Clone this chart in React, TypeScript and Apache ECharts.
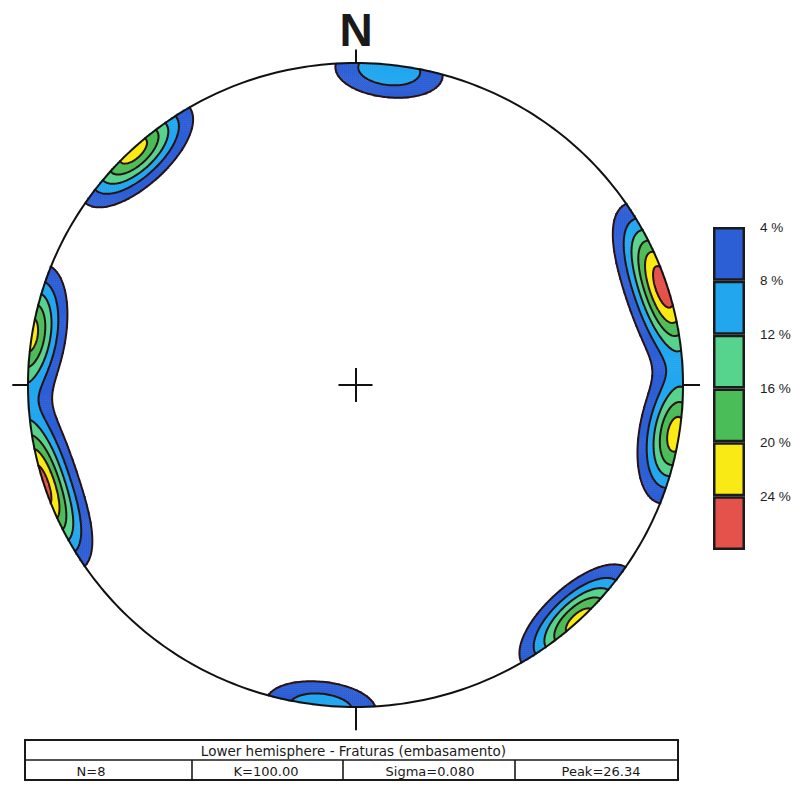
import React, { useEffect, useRef } from 'react';
import * as echarts from 'echarts';

// Poles to the 8 fractures: trend (deg, clockwise from N) and plunge (deg)
const POLE_TRENDS = [6, 315.5, 318.5, 66, 72, 78, 97.5, 100.5];
const POLE_PLUNGES = [1.5, 0.5, 0.5, 1, 1.5, 1, 1, 1];
const KAPPA = 75; // concentration of the counting kernel
const PEAK = 26.34; // peak density (%)
const LEVELS = [4, 8, 12, 16, 20, 24];
const LEVEL_COLORS = ['#2c5fd5', '#22a7ef', '#56d38d', '#4bbd58', '#f9ea15', '#e5524b'];
const LEVEL_LABELS = ['4 %', '8 %', '12 %', '16 %', '20 %', '24 %'];
const TITLE_ROW = 'Lower hemisphere - Fraturas (embasamento)';
const STAT_ROW = ['N=8', 'K=100.00', 'Sigma=0.080', 'Peak=26.34'];
const NORTH_LABEL = 'N';

const GRID_N = 330;
const NET = { left: 28, top: 63, width: 655, height: 644 };
const LINE_COLOR = '#2a1212';

function buildField() {
  const D2R = Math.PI / 180;
  const poles = POLE_TRENDS.map((t, k) => {
    const p = POLE_PLUNGES[k] * D2R;
    const tr = t * D2R;
    return [Math.cos(p) * Math.sin(tr), Math.cos(p) * Math.cos(tr), Math.sin(p)];
  });
  const coords = Array.from({ length: GRID_N }, (_, i) => -1 + ((i + 0.5) * 2) / GRID_N);
  const raw: number[][] = [];
  let max = 0;
  for (let j = 0; j < GRID_N; j++) {
    const row: number[] = [];
    for (let i = 0; i < GRID_N; i++) {
      let x = coords[i];
      let y = coords[j];
      let r = Math.hypot(x, y);
      const inside = r <= 1;
      if (r > 1) {
        x /= r;
        y /= r;
        r = 1;
      }
      const th = 2 * Math.asin(Math.min(1, r / Math.SQRT2));
      const az = Math.atan2(x, y);
      const d0 = Math.sin(th) * Math.sin(az);
      const d1 = Math.sin(th) * Math.cos(az);
      const d2 = Math.cos(th);
      let s = 0;
      for (const v of poles) s += Math.exp(KAPPA * (Math.abs(d0 * v[0] + d1 * v[1] + d2 * v[2]) - 1));
      row.push(s);
      if (inside && s > max) max = s;
    }
    raw.push(row);
  }
  const scale = PEAK / max;
  const field = raw.map((row) => row.map((v) => v * scale));
  return { coords, field };
}

type Seg = { a: string; b: string; pa: number[]; pb: number[] };

function contourLines(coords: number[], field: number[][], level: number): number[][][] {
  const n = coords.length;
  const segs: Seg[] = [];
  const interp = (x0: number, y0: number, v0: number, x1: number, y1: number, v1: number) => {
    const t = (level - v0) / (v1 - v0);
    return [x0 + t * (x1 - x0), y0 + t * (y1 - y0)];
  };
  for (let j = 0; j < n - 1; j++) {
    for (let i = 0; i < n - 1; i++) {
      const v0 = field[j][i];
      const v1 = field[j][i + 1];
      const v2 = field[j + 1][i + 1];
      const v3 = field[j + 1][i];
      const idx = (v0 >= level ? 1 : 0) | (v1 >= level ? 2 : 0) | (v2 >= level ? 4 : 0) | (v3 >= level ? 8 : 0);
      if (idx === 0 || idx === 15) continue;
      const x0 = coords[i], x1 = coords[i + 1], y0 = coords[j], y1 = coords[j + 1];
      const edge = (e: number) => {
        switch (e) {
          case 0:
            return { k: 'h' + i + '_' + j, p: interp(x0, y0, v0, x1, y0, v1) };
          case 1:
            return { k: 'v' + (i + 1) + '_' + j, p: interp(x1, y0, v1, x1, y1, v2) };
          case 2:
            return { k: 'h' + i + '_' + (j + 1), p: interp(x0, y1, v3, x1, y1, v2) };
          default:
            return { k: 'v' + i + '_' + j, p: interp(x0, y0, v0, x0, y1, v3) };
        }
      };
      const centerAbove = (v0 + v1 + v2 + v3) / 4 >= level;
      let pairs: number[][] = [];
      switch (idx) {
        case 1: case 14: pairs = [[3, 0]]; break;
        case 2: case 13: pairs = [[0, 1]]; break;
        case 3: case 12: pairs = [[3, 1]]; break;
        case 4: case 11: pairs = [[1, 2]]; break;
        case 6: case 9: pairs = [[0, 2]]; break;
        case 7: case 8: pairs = [[2, 3]]; break;
        case 5: pairs = centerAbove ? [[3, 2], [0, 1]] : [[3, 0], [1, 2]]; break;
        case 10: pairs = centerAbove ? [[0, 3], [1, 2]] : [[0, 1], [2, 3]]; break;
      }
      for (const [ea, eb] of pairs) {
        const A = edge(ea);
        const B = edge(eb);
        segs.push({ a: A.k, b: B.k, pa: A.p, pb: B.p });
      }
    }
  }
  const adj = new Map<string, number[]>();
  segs.forEach((s, k) => {
    for (const key of [s.a, s.b]) {
      const l = adj.get(key);
      if (l) l.push(k);
      else adj.set(key, [k]);
    }
  });
  const used = new Uint8Array(segs.length);
  const lines: number[][][] = [];
  for (let s0 = 0; s0 < segs.length; s0++) {
    if (used[s0]) continue;
    used[s0] = 1;
    const pts: number[][] = [segs[s0].pa, segs[s0].pb];
    let key = segs[s0].b;
    for (;;) {
      const cand = (adj.get(key) || []).find((t) => !used[t]);
      if (cand === undefined) break;
      used[cand] = 1;
      const s = segs[cand];
      if (s.a === key) { pts.push(s.pb); key = s.b; } else { pts.push(s.pa); key = s.a; }
    }
    key = segs[s0].a;
    for (;;) {
      const cand = (adj.get(key) || []).find((t) => !used[t]);
      if (cand === undefined) break;
      used[cand] = 1;
      const s = segs[cand];
      if (s.a === key) { pts.unshift(s.pb); key = s.b; } else { pts.unshift(s.pa); key = s.a; }
    }
    lines.push(pts);
  }
  return lines;
}

function clipToDisk(pts: number[][]): number[][][] {
  const out: number[][][] = [];
  let run: number[][] = [];
  const inside = (p: number[]) => p[0] * p[0] + p[1] * p[1] <= 1;
  const cross = (p: number[], q: number[]) => {
    const dx = q[0] - p[0], dy = q[1] - p[1];
    const a = dx * dx + dy * dy, b = 2 * (p[0] * dx + p[1] * dy), c = p[0] * p[0] + p[1] * p[1] - 1;
    const t = (-b + Math.sqrt(Math.max(0, b * b - 4 * a * c))) / (2 * a);
    return [p[0] + t * dx, p[1] + t * dy];
  };
  for (let k = 0; k < pts.length; k++) {
    const p = pts[k];
    const prev = pts[k - 1];
    if (inside(p)) {
      if (prev && !inside(prev)) run.push(cross(p, prev));
      run.push(p);
    } else if (prev && inside(prev)) {
      run.push(cross(prev, p));
      if (run.length > 1) out.push(run);
      run = [];
    }
  }
  if (run.length > 1) out.push(run);
  return out;
}

function buildOption() {
  const { coords, field } = buildField();
  const heat: number[][] = [];
  for (let j = 0; j < GRID_N; j++) {
    for (let i = 0; i < GRID_N; i++) {
      const x = coords[i], y = coords[j];
      if (x * x + y * y > 1) continue;
      const v = field[j][i];
      if (v >= LEVELS[0]) heat.push([i, j, +v.toFixed(3)]);
    }
  }
  const contours: { coords: number[][] }[] = [];
  for (const L of LEVELS) {
    for (const line of contourLines(coords, field, L)) {
      for (const part of clipToDisk(line)) contours.push({ coords: part });
    }
  }
  const circle: number[][] = [];
  for (let a = 0; a <= 360; a++) {
    const t = (a * Math.PI) / 180;
    circle.push([Math.sin(t), Math.cos(t)]);
  }
  const marks = [
    { coords: [[0, 1], [0, 1.042]] },
    { coords: [[1, 0], [1.052, 0]] },
    { coords: [[0, -1], [0, -1.072]] },
    { coords: [[-1, 0], [-1.048, 0]] },
    { coords: [[-0.052, 0], [0.052, 0]] },
    { coords: [[0, -0.053], [0, 0.053]] },
  ];
  const idx = Array.from({ length: GRID_N }, (_, i) => String(i));

  const pieces = LEVELS.map((l, k) =>
    k < LEVELS.length - 1
      ? { gte: l, lt: LEVELS[k + 1], color: LEVEL_COLORS[k] }
      : { gte: l, color: LEVEL_COLORS[k] }
  );
  const step = LEVELS[1] - LEVELS[0];
  const legendTop = LEVELS[LEVELS.length - 1] + step;

  const tableX = 25, tableY = 740, tableW = 653, rowH = 20;
  const colX = [25, 192, 343, 515, 678];
  const textCenters = [91, 266, 430, 601];

  return {
    animation: false,
    backgroundColor: '#ffffff',
    grid: [
      { left: NET.left, top: NET.top, width: NET.width, height: NET.height },
      { left: 713, top: 227, width: 32, height: 323 },
    ],
    xAxis: [
      { gridIndex: 0, type: 'category', data: idx, show: false },
      { gridIndex: 0, type: 'value', min: -1, max: 1, show: false },
      { gridIndex: 1, type: 'category', data: ['key'], show: false },
    ],
    yAxis: [
      { gridIndex: 0, type: 'category', data: idx, show: false },
      { gridIndex: 0, type: 'value', min: -1, max: 1, show: false },
      {
        gridIndex: 1,
        type: 'value',
        min: LEVELS[0],
        max: legendTop,
        interval: step,
        inverse: true,
        position: 'right',
        axisLine: { show: false },
        axisTick: { show: false },
        splitLine: { show: false },
        axisLabel: {
          margin: 15,
          fontSize: 13.5,
          fontFamily: 'Liberation Sans',
          color: '#1e1e1e',
          formatter: (v: number) => {
            const k = LEVELS.indexOf(v);
            return k >= 0 ? LEVEL_LABELS[k] : '';
          },
        },
      },
    ],
    visualMap: {
      type: 'piecewise',
      show: false,
      seriesIndex: 0,
      dimension: 2,
      pieces,
    },
    series: [
      {
        type: 'heatmap',
        xAxisIndex: 0,
        yAxisIndex: 0,
        data: heat,
        silent: true,
        progressive: 0,
        emphasis: { disabled: true },
        z: 2,
      },
      {
        type: 'lines',
        coordinateSystem: 'cartesian2d',
        xAxisIndex: 1,
        yAxisIndex: 1,
        polyline: true,
        silent: true,
        progressive: 0,
        large: false,
        data: contours,
        lineStyle: { color: LINE_COLOR, width: 2, opacity: 1, cap: 'round', join: 'round' },
        z: 3,
      },
      {
        type: 'lines',
        coordinateSystem: 'cartesian2d',
        xAxisIndex: 1,
        yAxisIndex: 1,
        polyline: true,
        silent: true,
        clip: false,
        data: [{ coords: circle }],
        lineStyle: { color: '#111', width: 2, opacity: 1 },
        z: 4,
      },
      {
        type: 'lines',
        coordinateSystem: 'cartesian2d',
        xAxisIndex: 1,
        yAxisIndex: 1,
        silent: true,
        clip: false,
        data: marks,
        lineStyle: { color: '#111', width: 2, opacity: 1 },
        z: 4,
      },
      {
        type: 'bar',
        xAxisIndex: 2,
        yAxisIndex: 2,
        stack: 'key',
        barWidth: '100%',
        silent: true,
        data: [LEVELS[0]],
        itemStyle: { color: 'rgba(0,0,0,0)' },
      },
      ...LEVELS.map((l, k) => ({
        type: 'bar',
        xAxisIndex: 2,
        yAxisIndex: 2,
        stack: 'key',
        barWidth: '100%',
        silent: true,
        data: [(k < LEVELS.length - 1 ? LEVELS[k + 1] : l + step) - l],
        itemStyle: { color: LEVEL_COLORS[k], borderColor: '#1b1b1b', borderWidth: 2.5 },
      })),
    ],
    graphic: [
      {
        type: 'text',
        x: 356,
        y: 30,
        style: {
          text: NORTH_LABEL,
          font: 'bold 46px "Liberation Sans"',
          fill: '#1a1a1a',
          align: 'center',
          verticalAlign: 'middle',
        },
      },
      {
        type: 'rect',
        shape: { x: tableX, y: tableY, width: tableW, height: rowH * 2 },
        style: { fill: '#fff', stroke: '#1a1a1a', lineWidth: 2 },
      },
      {
        type: 'line',
        shape: { x1: tableX, y1: tableY + rowH, x2: tableX + tableW, y2: tableY + rowH },
        style: { stroke: '#1a1a1a', lineWidth: 1.6 },
      },
      ...colX.slice(1, 4).map((x) => ({
        type: 'line',
        shape: { x1: x, y1: tableY + rowH, x2: x, y2: tableY + rowH * 2 },
        style: { stroke: '#1a1a1a', lineWidth: 1.6 },
      })),
      {
        type: 'text',
        x: tableX + tableW / 2 + 2,
        y: tableY + rowH / 2 + 1,
        style: { text: TITLE_ROW, font: '13.5px "DejaVu Sans"', fill: '#1a1a1a', align: 'center', verticalAlign: 'middle' },
      },
      ...STAT_ROW.map((t, k) => ({
        type: 'text',
        x: textCenters[k],
        y: tableY + rowH * 1.5 + 1,
        style: { text: t, font: '13px "DejaVu Sans"', fill: '#1a1a1a', align: 'center', verticalAlign: 'middle' },
      })),
    ],
  };
}

export default function App() {
  const ref = useRef<HTMLDivElement>(null);
  useEffect(() => {
    document.body.style.margin = '0';
    const chart = echarts.init(ref.current as HTMLDivElement, undefined, { renderer: 'svg' });
    chart.setOption(buildOption() as any);
    return () => chart.dispose();
  }, []);
  return <div ref={ref} style={{ width: 797, height: 790 }} />;
}
